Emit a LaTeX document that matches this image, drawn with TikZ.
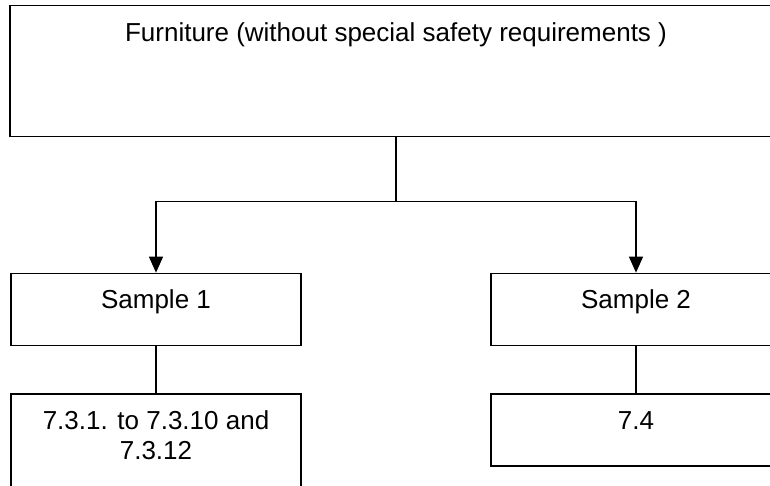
\documentclass[tikz,border=0pt]{standalone}
\usepackage{fontspec}
\setmainfont{Liberation Sans}
\usetikzlibrary{arrows.meta}

\tikzset{
    box/.style={draw, line width=1.3pt, anchor=north, inner xsep=0pt, inner ysep=0pt,
        align=center, font=\fontsize{26}{30}\selectfont},
    topbox/.style={box, minimum width=772pt, text height=36pt, text depth=95pt},
    samplebox/.style={box, minimum width=290pt, text height=35pt, text depth=37pt},
    clausebox/.style={box, minimum width=290pt, text height=36pt, text depth=36pt},
}

\begin{document}
\begin{tikzpicture}
[
    line width=1.3pt,
    level 1/.style={sibling distance=480pt, level distance=201.5pt,
        edge from parent/.style={draw, -{Triangle[length=16pt, width=14pt]}},
        edge from parent path={(\tikzparentnode.south) -- ++(0,-64pt) -| (\tikzchildnode.north)}},
    level 2/.style={level distance=84pt,
        edge from parent/.style={draw, -},
        edge from parent path={(\tikzparentnode.south) -- (\tikzchildnode.north)}},
]
\useasboundingbox (0,0) rectangle (770pt,-486pt);
\clip (0,0) rectangle (770pt,-486pt);
\node[topbox] (furniture) at (396pt,-5pt) {Furniture (without special safety requirements )} 
    child {node[samplebox] (sample1) {Sample 1} 
    child {node[clausebox, text height=66pt, text depth=54pt] (clauses1) {7.3.1. to 7.3.10 and\\7.3.12} 
}}  child {node[samplebox] (sample2) {Sample 2} 
    child {node[clausebox] (clauses2) {7.4} 
}};
\end{tikzpicture}
\end{document}
